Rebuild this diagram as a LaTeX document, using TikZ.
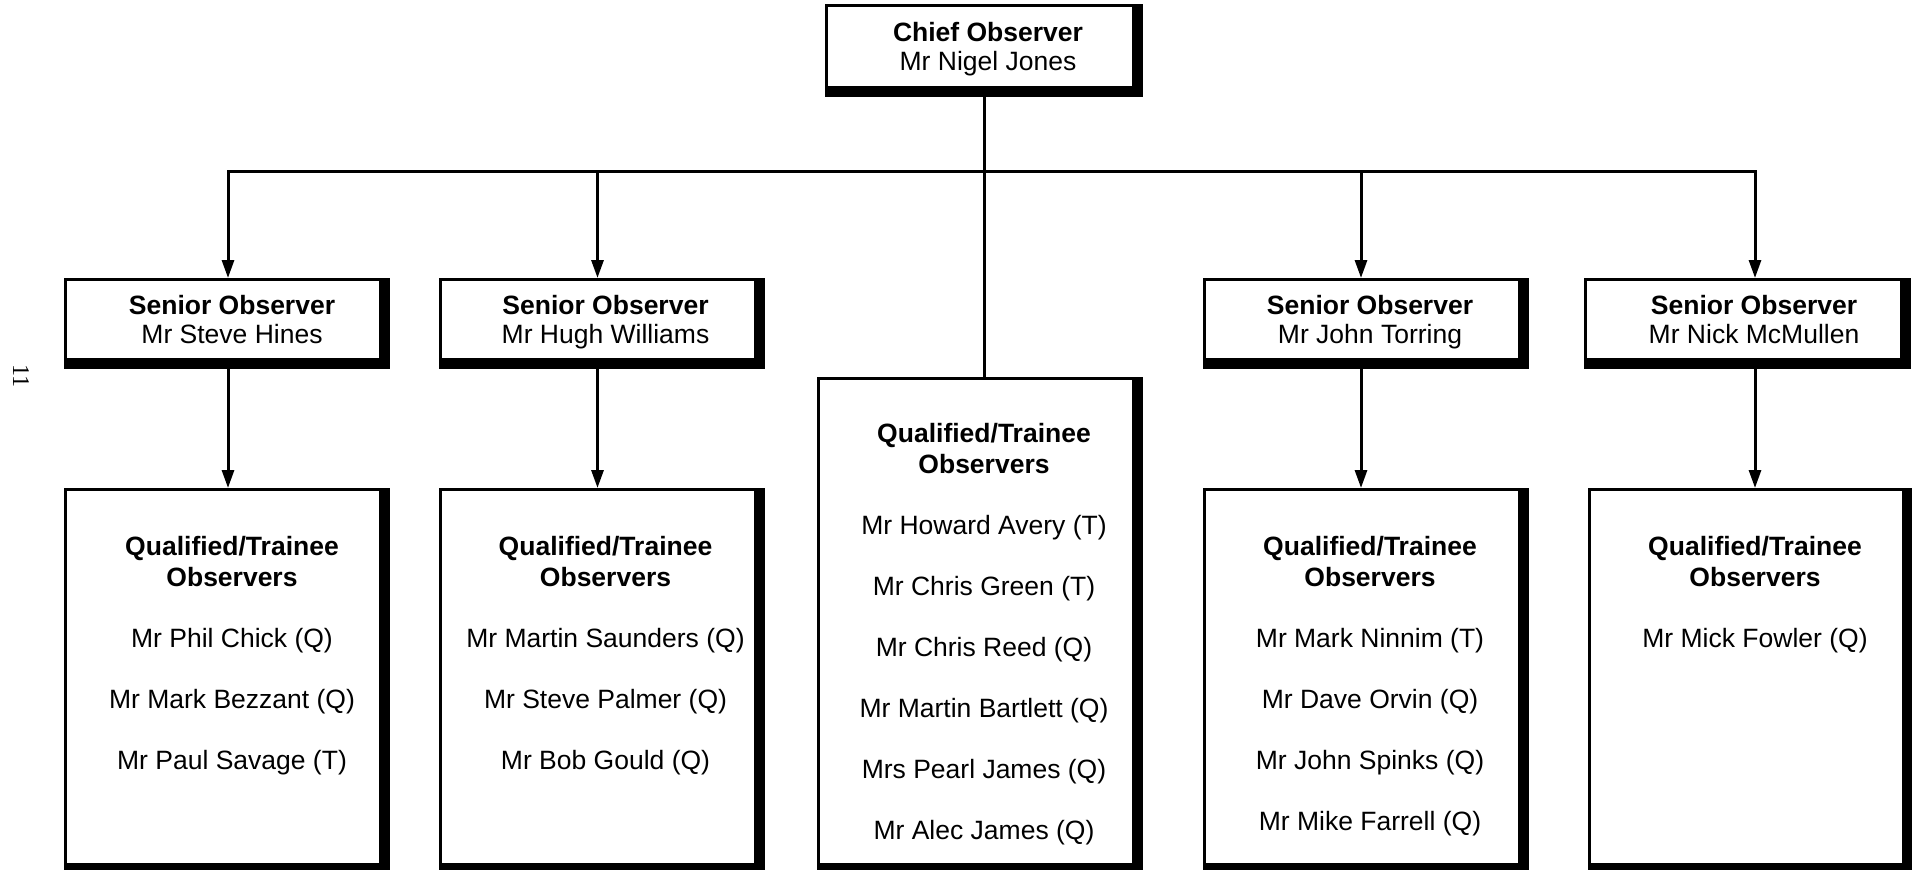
\documentclass[tikz,border=0pt]{standalone}
\usepackage{fontspec}
\setmainfont{Liberation Sans}
\newfontfamily\pgnumfont{Liberation Serif}
\usetikzlibrary{arrows.meta}
\newcommand{\fs}{\fontsize{26.5pt}{30.5pt}\selectfont}
\tikzset{
  boxshape/.style={fill=black, inner sep=0pt, outer sep=0pt,
    path picture={\fill[white] ([xshift=3pt,yshift=-3pt]path picture bounding box.north west)
      rectangle ([xshift=-11pt,yshift=11pt]path picture bounding box.south east);}},
  conn/.style={line width=3pt, line join=miter},
  arr/.style={conn, -{Triangle[length=18pt,width=12pt]}},
  hd/.style={font=\fs\bfseries, anchor=base, inner sep=0pt},
  nm/.style={font=\fs, anchor=base, inner sep=0pt},
}
\begin{document}
\begin{tikzpicture}[x=1pt,y=-1pt]
\useasboundingbox (0,0) rectangle (1912,870);
\fill[white] (0,0) rectangle (1912,870);

% boxes
\node[boxshape, minimum width=318pt, minimum height=93pt] (chief) at (984,50.5) {};
\node[boxshape, minimum width=326pt, minimum height=91pt] (s1) at (227,323.5) {};
\node[boxshape, minimum width=326pt, minimum height=91pt] (s2) at (602,323.5) {};
\node[boxshape, minimum width=326pt, minimum height=91pt] (s4) at (1366,323.5) {};
\node[boxshape, minimum width=327pt, minimum height=91pt] (s5) at (1747.5,323.5) {};
\node[boxshape, minimum width=326pt, minimum height=386pt] (q1) at (227,681) {};
\node[boxshape, minimum width=326pt, minimum height=386pt] (q2) at (602,681) {};
\node[boxshape, minimum width=326pt, minimum height=497pt] (qc) at (980,625.5) {};
\node[boxshape, minimum width=326pt, minimum height=386pt] (q4) at (1366,681) {};
\node[boxshape, minimum width=325pt, minimum height=386pt] (q5) at (1750.5,681) {};

% connectors
\coordinate (d1) at (228,171.5);
\coordinate (d2) at (597.5,171.5);
\coordinate (d4) at (1361,171.5);
\coordinate (d5) at (1755,171.5);
\draw[conn] (chief.south) -- (chief.south |- qc.north);
\draw[conn] (d2) -- (d4);
\draw[arr] (d2) -| (d1 |- s1.north);
\draw[arr] (d4) -| (d5 |- s5.north);
\draw[arr] (d2) -- (d2 |- s2.north);
\draw[arr] (d4) -- (d4 |- s4.north);
\draw[arr] (d1 |- s1.south) -- (d1 |- q1.north);
\draw[arr] (d2 |- s2.south) -- (d2 |- q2.north);
\draw[arr] (d4 |- s4.south) -- (d4 |- q4.north);
\draw[arr] (d5 |- s5.south) -- (d5 |- q5.north);

% texts
\node[hd] (ct1) at (988,41.5) {Chief Observer};
\node[nm] (ct2) at (988,70.5) {Mr Nigel Jones};

\node[hd] (s1t1) at (232,314.5) {Senior Observer};
\node[nm] (s1t2) at (232,343.5) {Mr Steve Hines};
\node[hd] (s2t1) at (605.5,314.5) {Senior Observer};
\node[nm] (s2t2) at (605.5,343.5) {Mr Hugh Williams};
\node[hd] (s4t1) at (1370,314.5) {Senior Observer};
\node[nm] (s4t2) at (1370,343.5) {Mr John Torring};
\node[hd] (s5t1) at (1754,314.5) {Senior Observer};
\node[nm] (s5t2) at (1754,343.5) {Mr Nick McMullen};

\node[hd] (q1h1) at (232,555.5) {Qualified/Trainee};
\node[hd] (q1h2) at (232,586) {Observers};
\foreach \t [count=\i] in {Mr Phil Chick (Q), Mr Mark Bezzant (Q), Mr Paul Savage (T)}
  \node[nm] (q1n\i) at (232,{647+61*(\i-1)}) {\t};

\node[hd] (q2h1) at (605.5,555.5) {Qualified/Trainee};
\node[hd] (q2h2) at (605.5,586) {Observers};
\foreach \t [count=\i] in {Mr Martin Saunders (Q), Mr Steve Palmer (Q), Mr Bob Gould (Q)}
  \node[nm] (q2n\i) at (605.5,{647+61*(\i-1)}) {\t};

\node[hd] (qch1) at (984,442.5) {Qualified/Trainee};
\node[hd] (qch2) at (984,473) {Observers};
\foreach \t [count=\i] in {Mr Howard Avery (T), Mr Chris Green (T), Mr Chris Reed (Q), Mr Martin Bartlett (Q), Mrs Pearl James (Q), Mr Alec James (Q)}
  \node[nm] (qcn\i) at (984,{534+61*(\i-1)}) {\t};

\node[hd] (q4h1) at (1370,555.5) {Qualified/Trainee};
\node[hd] (q4h2) at (1370,586) {Observers};
\foreach \t [count=\i] in {Mr Mark Ninnim (T), Mr Dave Orvin (Q), Mr John Spinks (Q), Mr Mike Farrell (Q)}
  \node[nm] (q4n\i) at (1370,{647+61*(\i-1)}) {\t};

\node[hd] (q5h1) at (1755,555.5) {Qualified/Trainee};
\node[hd] (q5h2) at (1755,586) {Observers};
\node[nm] (q5n1) at (1755,647) {Mr Mick Fowler (Q)};

% page number
\node[font=\pgnumfont\fontsize{24pt}{24pt}\selectfont, rotate=-90, inner sep=0pt] (pg) at (21,376) {11};
\end{tikzpicture}
\end{document}
